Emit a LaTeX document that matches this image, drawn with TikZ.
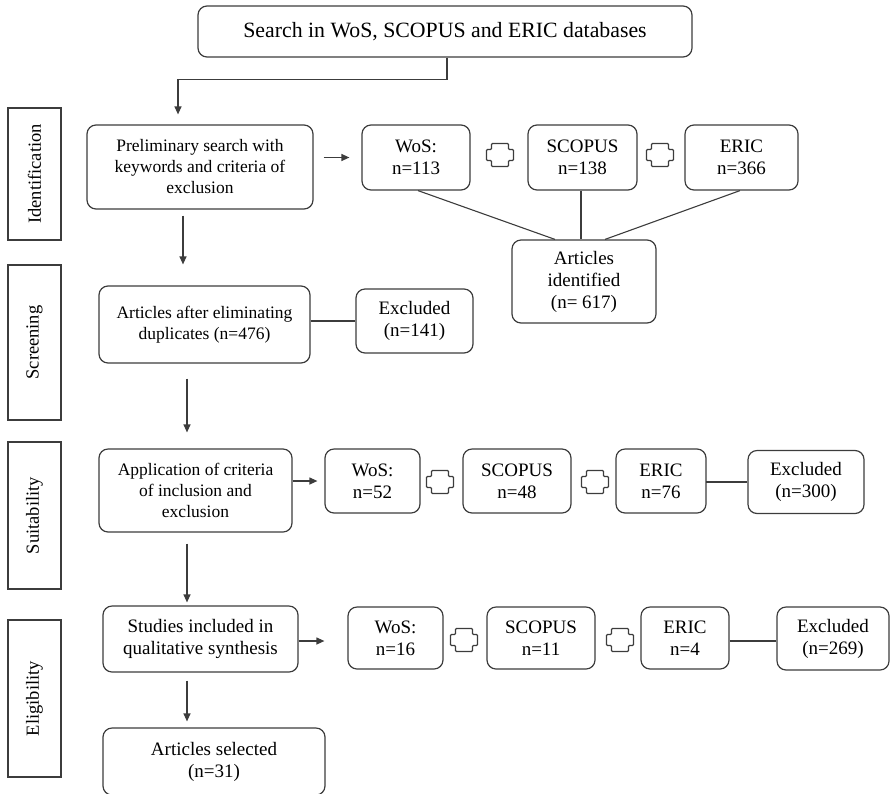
\documentclass[tikz,border=0pt]{standalone}
\usepackage{fontspec}
\setmainfont{Liberation Serif}
\usetikzlibrary{arrows.meta}
\definecolor{lncol}{HTML}{3C3C3C}
\begin{document}
\begin{tikzpicture}[x=1pt,y=-1pt,
 box/.style={draw=lncol, line width=1.2pt, rounded corners=9pt, inner sep=0pt, align=center, font=\fontsize{19}{22}\selectfont},
 boxs/.style={box, font=\fontsize{17.5}{21}\selectfont},
 lbl/.style={draw=lncol, line width=1.2pt, inner sep=0pt, rotate=90, font=\fontsize{18.5}{22}\selectfont},
 arr/.style={draw=lncol, line width=1.2pt, -{Triangle[length=8pt,width=7pt]}},
 conn/.style={draw=lncol, line width=1.1pt},
 plussign/.pic={\draw[draw=lncol, line width=1.1pt, rounded corners=1pt]
   (-8.5,11.5) -- (8.5,11.5) -- (8.5,5.5) -- (13.5,5.5) -- (13.5,-5.5) -- (8.5,-5.5) -- (8.5,-11.5)
   -- (-8.5,-11.5) -- (-8.5,-5.5) -- (-13.5,-5.5) -- (-13.5,5.5) -- (-8.5,5.5) -- cycle;}
]
\useasboundingbox (0,0) rectangle (890,793);
\begin{scope}
\clip (0,0) rectangle (890,793);

% title
\node[box, minimum width=494pt, minimum height=51pt, font=\fontsize{21.8}{26}\selectfont] (title) at (445,31.5) {Search in WoS, SCOPUS and ERIC databases};

% side labels
\node[lbl, minimum width=132pt, minimum height=53pt] (lid) at (34.5,174) {Identification};
\node[lbl, minimum width=155pt, minimum height=53pt] (lscr) at (34.5,342.5) {Screening};
\node[lbl, minimum width=147pt, minimum height=53pt] (lsuit) at (34.5,515.5) {Suitability};
\node[lbl, minimum width=157pt, minimum height=53pt] (lelig) at (34.5,698.5) {Eligibility};

% identification row
\node[boxs, minimum width=226pt, minimum height=84pt] (prelim) at (200,167) {Preliminary search with\\keywords and criteria of\\exclusion};
\node[box, minimum width=108pt, minimum height=65pt] (wos1) at (416,157.5) {WoS:\\n=113};
\node[box, minimum width=109pt, minimum height=65pt] (scop1) at (582.5,157.5) {SCOPUS\\n=138};
\node[box, minimum width=113pt, minimum height=65pt] (eric1) at (741.5,157.5) {ERIC\\n=366};
\pic at (500,155) {plussign};
\pic at (660,155) {plussign};
\node[box, minimum width=144pt, minimum height=83pt] (ident) at (584,281.5) {Articles\\identified\\(n= 617)};

% screening row
\node[boxs, minimum width=211pt, minimum height=77pt] (after) at (204.5,324.5) {Articles after eliminating\\duplicates (n=476)};
\node[box, minimum width=117pt, minimum height=64pt] (exc1) at (414.5,321) {Excluded\\(n=141)};

% suitability row
\node[boxs, minimum width=193pt, minimum height=83pt] (appl) at (195.5,490.5) {Application of criteria\\of inclusion and\\exclusion};
\node[box, minimum width=95pt, minimum height=64pt] (wos2) at (372.5,481) {WoS:\\n=52};
\node[box, minimum width=108pt, minimum height=64pt] (scop2) at (517,481) {SCOPUS\\n=48};
\node[box, minimum width=90pt, minimum height=64pt] (eric2) at (661,481) {ERIC\\n=76};
\node[box, minimum width=116pt, minimum height=63pt] (exc2) at (806,482) {Excluded\\(n=300)};
\pic at (440,482) {plussign};
\pic at (595,482) {plussign};

% eligibility row
\node[box, minimum width=195pt, minimum height=66pt] (studies) at (200.5,639) {Studies included in\\qualitative synthesis};
\node[box, minimum width=95pt, minimum height=62pt] (wos3) at (395.5,638) {WoS:\\n=16};
\node[box, minimum width=108pt, minimum height=62pt] (scop3) at (541,638) {SCOPUS\\n=11};
\node[box, minimum width=88pt, minimum height=62pt] (eric3) at (685,638) {ERIC\\n=4};
\node[box, minimum width=112pt, minimum height=63pt] (exc3) at (833,638.5) {Excluded\\(n=269)};
\pic at (464,640) {plussign};
\pic at (620,640) {plussign};

% selected
\node[box, minimum width=222pt, minimum height=67pt] (sel) at (214,761.5) {Articles selected\\(n=31)};

% connectors
\draw[arr, shorten >=10pt] ([xshift=2pt]title.south) |- ([xshift=-22pt, yshift=45pt]prelim.north) -- ([xshift=-22pt]prelim.north);
\draw[arr, shorten <=10pt, shorten >=12pt] (wos1.west -| prelim.east) -- (wos1.west);
\draw[conn] ([xshift=2pt]wos1.south) -- ([xshift=-29pt]ident.north);
\draw[conn] ([xshift=-1.5pt]scop1.south) -- ([xshift=-3pt]ident.north);
\draw[conn] ([xshift=-1.5pt]eric1.south) -- ([xshift=21pt]ident.north);

\draw[arr, shorten <=6pt, shorten >=21pt] ([xshift=-17pt]prelim.south) -- ([xshift=-17pt]prelim.south |- after.north);
\draw[conn] (exc1.west -| after.east) -- (exc1.west);

\draw[arr, shorten <=15pt, shorten >=16pt] ([xshift=-17.5pt]after.south) -- ([xshift=-17.5pt]after.south |- appl.north);
\draw[arr, shorten >=7pt] (wos2.west -| appl.east) -- (wos2.west);
\draw[conn] (eric2.east) -- (exc2.west -| eric2.east) -- (exc2.west);

\draw[arr, shorten <=11pt, shorten >=3pt] ([xshift=-8.5pt]appl.south) -- ([xshift=-8.5pt]appl.south |- studies.north);
\draw[arr, shorten >=23pt] ([yshift=-2pt]studies.east) -- ([yshift=-2pt]studies.east -| wos3.west);
\draw[conn] ([yshift=-3pt]eric3.east) -- ([yshift=-3pt]eric3.east -| exc3.west);

\draw[arr, shorten <=8pt, shorten >=6pt] ([xshift=-13.5pt]studies.south) -- ([xshift=-13.5pt]studies.south |- sel.north);
\end{scope}
\end{tikzpicture}
\end{document}
